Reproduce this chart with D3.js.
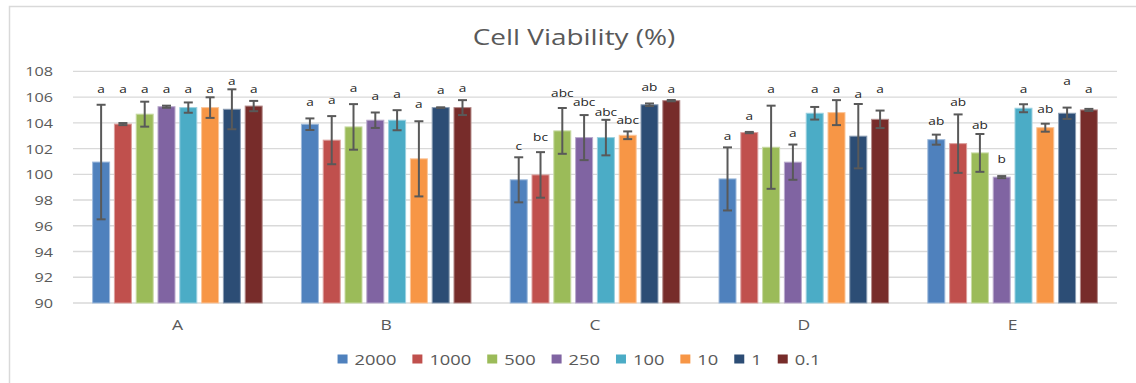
<!DOCTYPE html>
<html><head><meta charset="utf-8">
<script src="https://cdn.jsdelivr.net/npm/d3@7"></script>
<style>
html,body{margin:0;padding:0;background:#fff;}
svg{display:block;}
text{font-family:"Open Sans",sans-serif;}
</style></head>
<body>
<svg id="chart" width="1136" height="383"></svg>
<script>
const title = "Cell Viability (%)";
const groups = ["A", "B", "C", "D", "E"];
const concentrations = ["2000", "1000", "500", "250", "100", "10", "1", "0.1"];
const colors = ["#4F81BD", "#C0504D", "#9BBB59", "#8064A2", "#4BACC6", "#F79646", "#2C4D75", "#772C2A"];
const yTicks = [90, 92, 94, 96, 98, 100, 102, 104, 106, 108];

// mean viability per group (rows) and concentration (columns)
const means = [
  [100.95, 103.9, 104.67, 105.25, 105.18, 105.18, 105.05, 105.3],
  [103.89, 102.65, 103.68, 104.2, 104.2, 101.2, 105.18, 105.18],
  [99.57, 99.95, 103.37, 102.85, 102.85, 103.03, 105.4, 105.72],
  [99.64, 103.24, 102.1, 100.94, 104.74, 104.79, 102.96, 104.27],
  [102.69, 102.38, 101.66, 99.78, 105.13, 103.62, 104.74, 105.0]
];
// error (± value)
const errors = [
  [4.45, 0.08, 0.97, 0.08, 0.4, 0.8, 1.55, 0.4],
  [0.45, 1.87, 1.77, 0.6, 0.78, 2.92, 0.02, 0.58],
  [1.75, 1.77, 1.78, 1.75, 1.38, 0.3, 0.1, 0.05],
  [2.45, 0.05, 3.23, 1.37, 0.49, 0.97, 2.5, 0.68],
  [0.39, 2.27, 1.47, 0.08, 0.31, 0.31, 0.44, 0.08]
];
// significance letters
const letters = [
  ["a", "a", "a", "a", "a", "a", "a", "a"],
  ["a", "a", "a", "a", "a", "a", "a", "a"],
  ["c", "bc", "abc", "abc", "abc", "abc", "ab", "a"],
  ["a", "a", "a", "a", "a", "a", "a", "a"],
  ["ab", "ab", "ab", "b", "a", "ab", "a", "a"]
];
// value level at which each letter is centred
const letterAt = [
  [106.63, 106.63, 106.63, 106.63, 106.63, 106.63, 107.27, 106.63],
  [105.64, 105.77, 106.68, 106.08, 106.26, 105.44, 106.55, 106.68],
  [102.23, 102.88, 106.29, 105.62, 104.84, 104.2, 106.76, 106.65],
  [102.98, 104.53, 106.65, 103.24, 106.65, 106.65, 106.2, 106.65],
  [104.12, 105.62, 103.81, 101.22, 106.65, 105.05, 107.27, 106.65]
];

const svg = d3.select("#chart");
const plot = {left: 73, right: 1117, top: 71.3, bottom: 303};

// chart border
svg.append("rect").attr("x", 9.5).attr("y", 6.5).attr("width", 1140).attr("height", 400)
  .attr("fill", "none").attr("stroke", "#d9d9d9").attr("stroke-width", 1.5);

const x0 = d3.scaleBand().domain(groups).range([plot.left, plot.right]).padding(0);
const x1 = d3.scaleBand().domain(concentrations).range([0, x0.bandwidth()])
  .paddingInner(0.22).paddingOuter(0.9);
const y = d3.scaleLinear().domain([90, 108]).range([plot.bottom, plot.top]);

// helper for horizontally-stretched text
function stretchText(sel, x, yy, str, size, sx, anchor, fill, weight) {
  const g = sel.append("g").attr("transform", `translate(${x},${yy}) scale(${sx},1)`);
  g.append("text").attr("text-anchor", anchor).attr("font-size", size)
    .attr("fill", fill).attr("font-weight", weight || 400).text(str);
  return g;
}

// gridlines
svg.append("g").selectAll("line").data(yTicks).join("line")
  .attr("x1", plot.left).attr("x2", plot.right)
  .attr("y1", d => y(d)).attr("y2", d => y(d))
  .attr("stroke", "#d9d9d9").attr("stroke-width", 1.3);

// y tick labels
const yl = svg.append("g");
yTicks.forEach(t => stretchText(yl, 53, y(t) + 5, String(t), 13.5, 1.2, "end", "#595959"));

// title
stretchText(svg, 574, 45, title, 21, 1.33, "middle", "#595959");

// bars
const flat = [];
groups.forEach((g, gi) => concentrations.forEach((c, ci) => flat.push({
  g, c, ci, v: means[gi][ci], e: errors[gi][ci], l: letters[gi][ci], la: letterAt[gi][ci]
})));

const bars = svg.append("g");
bars.selectAll("rect").data(flat).join("rect")
  .attr("x", d => x0(d.g) + x1(d.c))
  .attr("y", d => y(d.v))
  .attr("width", x1.bandwidth())
  .attr("height", d => y(90) - y(d.v))
  .attr("fill", d => colors[d.ci])
  .attr("stroke", d => d3.interpolateRgb(colors[d.ci], "#ffffff")(0.45))
  .attr("stroke-width", 1);

// error bars
const eb = svg.append("g").attr("stroke", "#595959").attr("stroke-width", 2);
flat.forEach(d => {
  const cx = x0(d.g) + x1(d.c) + x1.bandwidth() / 2;
  const yt = y(d.v + d.e), yb = y(d.v - d.e);
  eb.append("line").attr("x1", cx).attr("x2", cx).attr("y1", yt).attr("y2", yb);
  eb.append("line").attr("x1", cx - 4.5).attr("x2", cx + 4.5).attr("y1", yt).attr("y2", yt);
  eb.append("line").attr("x1", cx - 4.5).attr("x2", cx + 4.5).attr("y1", yb).attr("y2", yb);
});

// letters
const lg = svg.append("g");
flat.forEach(d => {
  const cx = x0(d.g) + x1(d.c) + x1.bandwidth() / 2;
  stretchText(lg, cx, y(d.la) + 4, d.l, 10.5, 1.3, "middle", "#262626");
});

// category labels
const cg = svg.append("g");
groups.forEach(g => stretchText(cg, x0(g) + x0.bandwidth() / 2, 330, g, 14, 1.25, "middle", "#595959"));

// legend
const leg = svg.append("g");
let cursor = 0;
concentrations.forEach((c, i) => {
  const it = leg.append("g");
  it.append("rect").attr("x", 0).attr("y", -4.5).attr("width", 10).attr("height", 9).attr("fill", colors[i]);
  const tg = stretchText(it, 17, 5.5, c, 15, 1.22, "start", "#595959");
  const w = 17 + tg.select("text").node().getComputedTextLength() * 1.22;
  it.attr("transform", `translate(${cursor},0)`);
  cursor += w + 16;
});
const total = cursor - 16;
leg.attr("transform", `translate(${579 - total / 2},359)`);
</script>
</body></html>
